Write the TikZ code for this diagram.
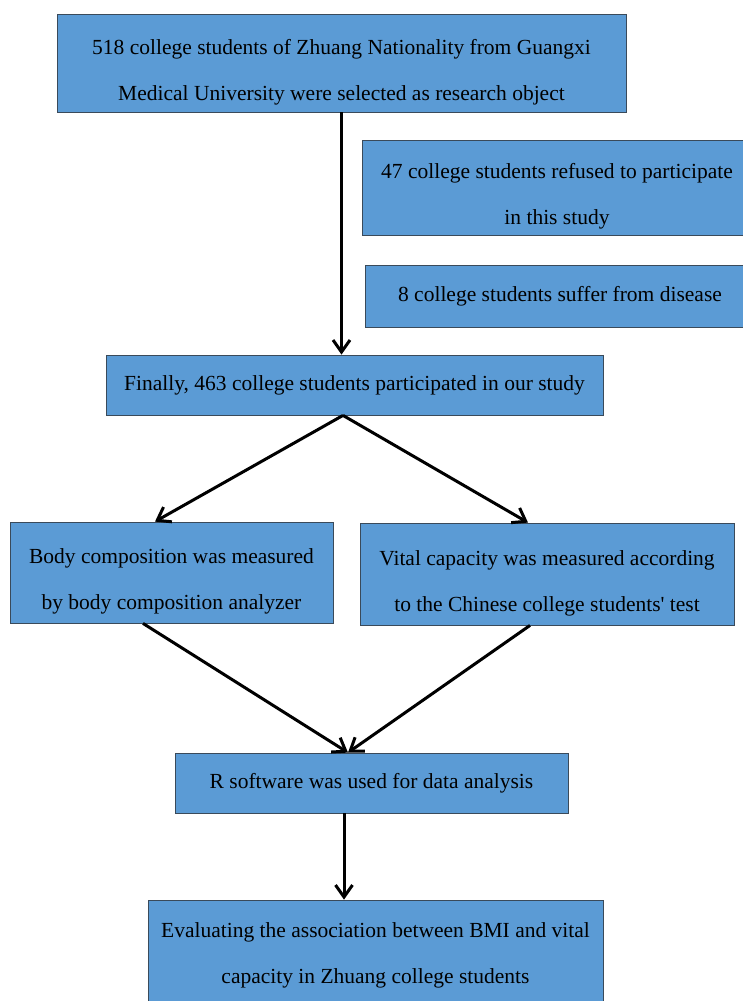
\documentclass[tikz,border=0pt]{standalone}
\usepackage{fontspec}
\setmainfont{Liberation Serif}
\usetikzlibrary{arrows.meta,calc}

% extra room above the first line (double spacing)
\newcommand{\lineroom}{\rule{0pt}{33pt}}

\begin{document}
\begin{tikzpicture}[x=1pt,y=-1pt]
  % Define colors
  \definecolor{boxfill}{HTML}{5B9BD5}
  \definecolor{boxborder}{HTML}{3A4A5A}

  % Styles
  \tikzset{
    flowbox/.style={draw=boxborder, fill=boxfill, line width=0.8pt, align=center,
      inner sep=0pt, font=\fontsize{21.5}{46}\selectfont},
    flowarrow/.style={-{Straight Barb[length=12pt,width=17pt,line width=3pt]}, line width=3pt}
  }

  % Page frame
  \useasboundingbox (0,0) rectangle (743,1001);
  \clip (0,0) rectangle (743,1001);

  % Boxes
  \node[flowbox, minimum width=569, minimum height=98] (top) at (341.5,63)
    {\lineroom 518 college students of Zhuang Nationality from Guangxi\\Medical University were selected as research object};
  \node[flowbox, minimum width=390, minimum height=95] (refuse) at (557,187.5)
    {\lineroom 47 college students refused to participate\\in this study};
  \node[flowbox, minimum width=390, minimum height=62] (disease) at (560,296)
    {8 college students suffer from disease};
  \node[flowbox, minimum width=497, minimum height=60] (final) at (354.5,385)
    {Finally, 463 college students participated in our study};
  \node[flowbox, minimum width=323, minimum height=101] (body) at (171.5,572.5)
    {\lineroom Body composition was measured\\by body composition analyzer};
  \node[flowbox, minimum width=374, minimum height=102] (vital) at (547,574)
    {\lineroom Vital capacity was measured according\\to the Chinese college students\textquotesingle\ test};
  \node[flowbox, minimum width=393, minimum height=60] (soft) at (371.5,783)
    {R software was used for data analysis};
  \node[flowbox, minimum width=455, minimum height=110] (eval) at (375.5,955)
    {Evaluating the association between BMI and vital\\capacity in Zhuang college students};

  % Split and merge points
  \coordinate (split) at ($(final.south)+(-11.5,0)$);
  \coordinate (merge) at ($(soft.north)+(-23.5,0)$);
  \coordinate (down) at ($(soft.south)+(-27.5,0)$);

  % Arrows
  \draw[flowarrow] (top.south) -- (top.south |- final.north);
  \draw[flowarrow] (split) -- ($(body.north)+(-16.5,0)$);
  \draw[flowarrow] (split) -- ($(vital.north)+(-19,0)$);
  \draw[flowarrow] ($(body.south)+(-28.5,0)$) -- (merge);
  \draw[flowarrow] ($(vital.south)+(-17,0)$) -- (merge);
  \draw[flowarrow] (down) -- (down |- eval.north);
\end{tikzpicture}
\end{document}
